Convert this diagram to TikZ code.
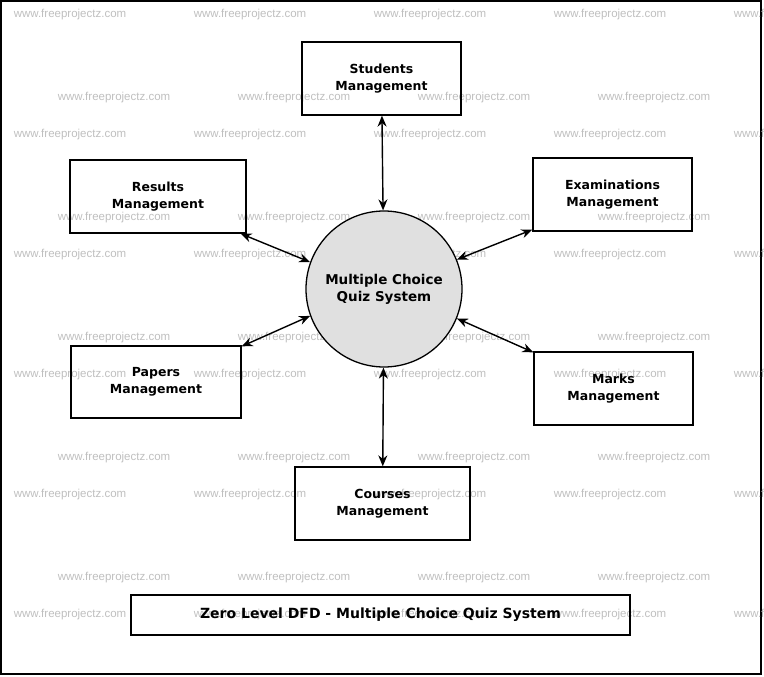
\documentclass[tikz,border=0pt]{standalone}
\usepackage{fontspec}
\setmainfont{DejaVu Sans}
\newfontfamily\wmfont{Liberation Sans}
\usetikzlibrary{arrows.meta}
\begin{document}
\begin{tikzpicture}[x=1pt,y=-1pt,
  box/.style={draw,line width=1.3pt,minimum width=#1,minimum height=73pt,align=center,font=\bfseries\fontsize{12.5}{16.5}\selectfont,inner sep=0pt},
  flow/.style={line width=1.4pt,{Stealth[length=11pt,width=9pt]}-{Stealth[length=11pt,width=9pt]}},
  wm/.style={text=black!25,font=\wmfont\fontsize{11.5}{13}\selectfont,inner sep=0pt}]
\useasboundingbox (0,0) rectangle (764,677);
\draw[line width=1.3pt] (1,1) rectangle (761,674);
\foreach \y in {15,135,255,375,495,615}{\foreach \x in {70,250,430,610,790}{\node[wm] (w\x-\y) at (\x,\y) {www.freeprojectz.com};}}
\foreach \y in {98,218,338,458,578}{\foreach \x in {114,294,474,654}{\node[wm] (v\x-\y) at (\x,\y) {www.freeprojectz.com};}}
\node[draw,line width=1.3pt,circle,fill=black!12,minimum size=156pt,align=center,font=\bfseries\fontsize{13.5}{17}\selectfont] (c) at (384,289) {Multiple Choice\\Quiz System};
\node[box=159pt] (s) at (381.5,78.5) {Students\\Management};
\node[box=176pt] (r) at (158,196.5) {Results\\Management};
\node[box=159pt] (e) at (612.5,194.5) {Examinations\\Management};
\node[box=170pt,minimum height=72pt] (p) at (156,382) {Papers\\Management};
\node[box=159pt] (m) at (613.5,388.5) {Marks\\Management};
\node[box=175pt] (co) at (382.5,503.5) {Courses\\Management};
\node[draw,line width=1.3pt,minimum width=499pt,minimum height=40pt,font=\bfseries\fontsize{14}{16}\selectfont] (t) at (380.5,615) {Zero Level DFD - Multiple Choice Quiz System};
\draw[flow] (s) -- (c);
\draw[flow] (r.south east) ++(-6,0) coordinate (ra) -- (c.160);
\draw[flow] (e.south west) ++(0,-2) coordinate (ea) -- (c.22);
\draw[flow] (p.north east) ++(0,1) coordinate (pa) -- (c.200);
\draw[flow] (m.north west) ++(0,1) coordinate (ma) -- (c.338);
\draw[flow] (co) -- (c);
\end{tikzpicture}
\end{document}
